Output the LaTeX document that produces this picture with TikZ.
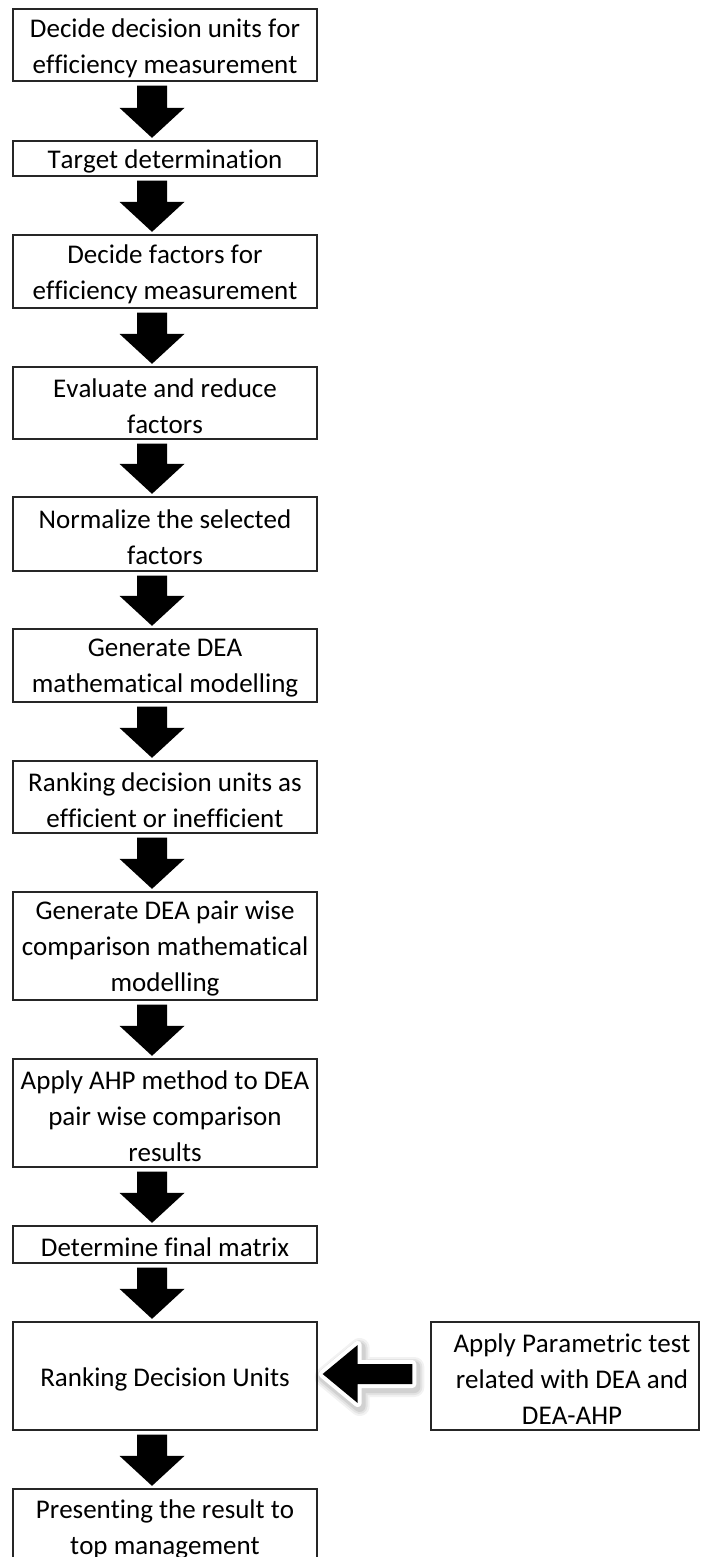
\documentclass[tikz,border=0pt]{standalone}
\usepackage{fontspec}
\setmainfont{Carlito}[Ligatures=NoCommon, Kerning=Off]
\usetikzlibrary{calc}

\tikzset{
  stepbox/.style={draw=black!85, line width=1.3pt, rectangle, minimum width=304pt,
    inner sep=0pt},
  boxtext/.style={align=center, inner sep=0pt, yshift=-3pt,
    font=\fontsize{27}{36}\selectfont},
  flowarrow/.style={fill=black},
}

% thick block arrow pointing down, from the bottom of #1 to the top of #2
\newcommand\downflow[2]{%
  \path[flowarrow] let \p1=(#1.south), \p2=(#2.north), \p3=(ax) in
    (\x3-15pt,\y1-4pt) -- (\x3+15pt,\y1-4pt) -- (\x3+15pt,\y2+32.5pt)
    -- (\x3+32.5pt,\y2+32.5pt) -- (\x3,\y2+2.5pt) -- (\x3-32.5pt,\y2+32.5pt)
    -- (\x3-15pt,\y2+32.5pt) -- cycle;}

% block arrow pointing left, from the side box to the ranking box
\newcommand\sidearrow[3]{%
  \path[#1] let \p1=(rank.east), \p2=(test.west) in
    (\x1+5pt+#2,\y1+2pt+#3) -- (\x1+40pt+#2,\y1+31pt+#3) -- (\x1+40pt+#2,\y1+12pt+#3)
    -- (\x2-18pt+#2,\y1+12pt+#3) -- (\x2-18pt+#2,\y1-8pt+#3)
    -- (\x1+40pt+#2,\y1-8pt+#3) -- (\x1+40pt+#2,\y1-27pt+#3) -- cycle;}

\begin{document}
\begin{tikzpicture}[x=1pt,y=-1pt]
\useasboundingbox (0,0) rectangle (704,1557);
\clip (0,0) rectangle (704,1557);
\fill[white] (0,0) rectangle (704,1557);

\coordinate (ax) at (152,0);

\node[stepbox, minimum height=72pt, label={[boxtext]center:{Decide decision units for\\efficiency measurement}}] (units) at (165,45) {};
\node[stepbox, minimum height=35pt, label={[boxtext]center:{Target determination}}] (target) at (165,158.5) {};
\node[stepbox, minimum height=73pt, label={[boxtext]center:{Decide factors for\\efficiency measurement}}] (factors) at (165,271.5) {};
\node[stepbox, minimum height=72pt, label={[boxtext]center:{Evaluate and reduce\\factors}}] (reduce) at (165,403) {};
\node[stepbox, minimum height=74pt, label={[boxtext]center:{Normalize the selected\\factors}}] (norm) at (165,534) {};
\node[stepbox, minimum height=73pt, label={[boxtext]center:{Generate DEA\\mathematical modelling}}] (dea) at (165,665.5) {};
\node[stepbox, minimum height=72pt, label={[boxtext]center:{Ranking decision units as\\efficient or inefficient}}] (eff) at (165,797) {};
\node[stepbox, minimum height=108pt, label={[boxtext]center:{Generate DEA pair wise\\comparison mathematical\\modelling}}] (pair) at (165,946) {};
\node[stepbox, minimum height=108pt, label={[boxtext]center:{Apply AHP method to DEA\\pair wise comparison\\results}}] (ahp) at (165,1113) {};
\node[stepbox, minimum height=37pt, label={[boxtext]center:{Determine final matrix}}] (matrix) at (165,1244.5) {};
\node[stepbox, minimum height=108pt, label={[boxtext]center:{Ranking Decision Units}}] (rank) at (165,1376) {};
\node[stepbox, minimum height=74pt, label={[boxtext]center:{Presenting the result to\\top management}}] (top) at (165,1526) {};
\node[stepbox, minimum width=268pt, minimum height=108pt,
  label={[boxtext, xshift=7pt]center:{Apply Parametric test\\related with DEA and\\DEA-AHP}}] (test) at (565,1376) {};

\downflow{units}{target}
\downflow{target}{factors}
\downflow{factors}{reduce}
\downflow{reduce}{norm}
\downflow{norm}{dea}
\downflow{dea}{eff}
\downflow{eff}{pair}
\downflow{pair}{ahp}
\downflow{ahp}{matrix}
\downflow{matrix}{rank}
\downflow{rank}{top}

% soft shadow, white rim, then the arrow itself
\sidearrow{draw=black, line width=20pt, line join=round, opacity=0.05}{2pt}{-3pt}
\sidearrow{draw=black, line width=16pt, line join=round, opacity=0.06}{2pt}{-3pt}
\sidearrow{draw=black, line width=12pt, line join=round, opacity=0.08}{2pt}{-3pt}
\sidearrow{draw=white, line width=8pt, line join=round}{0pt}{0pt}
\sidearrow{fill=black}{0pt}{0pt}
\end{tikzpicture}
\end{document}
